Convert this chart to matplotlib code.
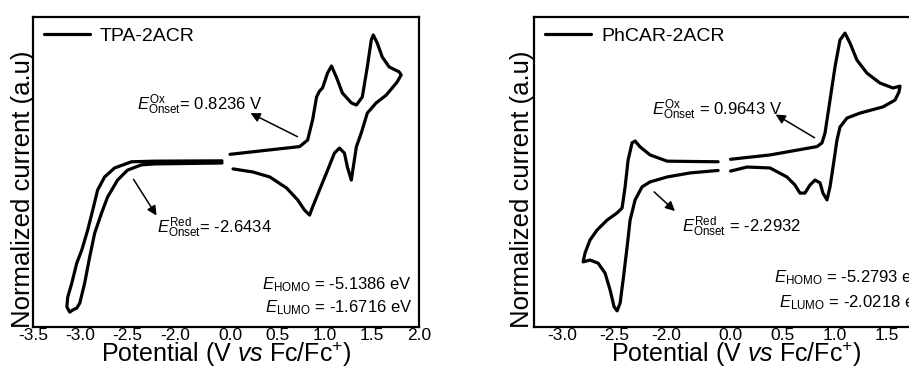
import numpy as np
import matplotlib
matplotlib.use("Agg")
import matplotlib.pyplot as plt

plt.rcParams['font.family'] = ['Liberation Sans', 'DejaVu Sans']
plt.rcParams['mathtext.fontset'] = 'custom'
plt.rcParams['mathtext.rm'] = 'Liberation Sans'
plt.rcParams['mathtext.it'] = 'Liberation Sans:italic'
plt.rcParams['axes.unicode_minus'] = False

# ---------------- TPA-2ACR ----------------
# reduction scan (left of the axis break)
tpa_red_x = [-1.5, -2.216, -2.458, -2.637, -2.742, -2.816, -2.868, -2.921, -2.984, -3.037,
             -3.089, -3.132, -3.142, -3.111, -3.079, -3.037,
             -3.005, -2.953, -2.9, -2.847, -2.774, -2.711, -2.605, -2.5, -2.353, -2.216, -1.5]
tpa_red_y = [5.36, 5.35, 5.33, 5.13, 4.84, 4.42, 3.77, 3.13, 2.48, 2.06,
             1.42, 0.97, 0.65, 0.48, 0.55, 0.61,
             0.77, 1.42, 2.26, 3.03, 3.68, 4.19, 4.74, 5.06, 5.23, 5.26, 5.29]
# oxidation scan (right of the axis break)
tpa_ox_x = [0.0, 0.737, 0.821, 0.874, 0.916, 0.947, 0.979, 1.032, 1.074, 1.126, 1.189, 1.284,
            1.337, 1.4, 1.453, 1.495, 1.516, 1.558, 1.611, 1.684, 1.789, 1.811, 1.768,
            1.653, 1.547, 1.453, 1.389, 1.337, 1.295, 1.284, 1.242, 1.211, 1.158, 1.105,
            1.021, 0.947, 0.874, 0.842, 0.789, 0.716, 0.6, 0.421, 0.242, 0.032]
tpa_ox_y = [5.57, 5.82, 6.03, 6.68, 7.42, 7.61, 7.71, 8.19, 8.42, 8.06, 7.55, 7.23,
            7.16, 7.42, 8.39, 9.26, 9.42, 9.16, 8.71, 8.39, 8.23, 8.13, 7.9,
            7.48, 7.23, 6.9, 6.26, 5.81, 4.97, 4.74, 5.16, 5.61, 5.77, 5.61,
            4.97, 4.42, 3.87, 3.61, 3.77, 4.1, 4.48, 4.84, 5.0, 5.1]

# ---------------- PhCAR-2ACR ----------------
ph_red_x = [-1.5, -1.769, -1.99, -2.154, -2.25, -2.298, -2.327, -2.365, -2.394, -2.423,
            -2.471, -2.567, -2.663, -2.731, -2.779, -2.798,
            -2.731, -2.654, -2.587, -2.538, -2.5, -2.471, -2.442, -2.413, -2.375, -2.346,
            -2.298, -2.231, -2.154, -1.99, -1.769, -1.5]
ph_red_y = [5.33, 5.34, 5.35, 5.55, 5.81, 6.0, 5.94, 5.39, 4.52, 3.84,
            3.68, 3.45, 3.13, 2.81, 2.39, 2.1,
            2.16, 2.06, 1.74, 1.19, 0.65, 0.52, 0.77, 1.52, 2.58, 3.45,
            4.1, 4.52, 4.68, 4.84, 4.97, 5.05]
ph_ox_x = [0.0, 0.379, 0.831, 0.879, 0.908, 0.956, 1.004, 1.052, 1.1, 1.148, 1.215, 1.311,
           1.436, 1.561, 1.629,
           1.619, 1.581, 1.465, 1.244, 1.119, 1.052, 1.023, 0.985, 0.956, 0.927, 0.888,
           0.86, 0.812, 0.763, 0.715, 0.667, 0.619, 0.542, 0.379, 0.158, 0.0]
ph_ox_y = [5.41, 5.55, 5.82, 5.94, 6.26, 7.32, 8.39, 9.26, 9.48, 9.16, 8.61, 8.19,
           7.87, 7.71, 7.77,
           7.58, 7.32, 7.1, 6.9, 6.74, 6.45, 6.03, 5.16, 4.52, 4.1, 4.32,
           4.65, 4.74, 4.58, 4.32, 4.32, 4.58, 4.84, 5.13, 5.16, 5.03]

tpa_ticks = [-3.5, -3.0, -2.5, -2.0, 0.0, 0.5, 1.0, 1.5, 2.0]
ph_ticks = [-3.0, -2.5, -2.0, 0.0, 0.5, 1.0, 1.5]


def break_scale(gap):
    # squeeze the unused -1.5 ... 0 V range into a small gap
    def fwd(x):
        x = np.asarray(x, dtype=float)
        return np.where(x <= -1.5, x,
                        np.where(x >= 0, x - 1.5 + gap, -1.5 + (x + 1.5) * gap / 1.5))

    def inv(u):
        u = np.asarray(u, dtype=float)
        return np.where(u <= -1.5, u,
                        np.where(u >= -1.5 + gap, u + 1.5 - gap, -1.5 + (u + 1.5) * 1.5 / gap))
    return fwd, inv


fig = plt.figure(figsize=(9.09, 3.70), dpi=100)
W, H = 909.0, 370.0

ax1 = fig.add_axes([33 / W, 43 / H, 386 / W, 310 / H])
ax2 = fig.add_axes([534 / W, 43 / H, 404.6 / W, 310 / H])


def style(ax, gap, xlim, ticks, name):
    ax.set_xscale('function', functions=break_scale(gap))
    ax.set_xlim(*xlim)
    ax.set_ylim(0, 10)
    ax.set_xticks(ticks)
    ax.set_xticklabels([f"{t:.1f}" for t in ticks])
    ax.set_yticks([])
    ax.minorticks_off()
    ax.tick_params(axis='x', length=0, pad=0.5, labelsize=12.5)
    for s in ax.spines.values():
        s.set_linewidth(1.6)
    ax.set_xlabel(r"Potential (V $\it{vs}$ Fc/Fc$^{+}$)", fontsize=18, labelpad=-2)
    leg = ax.legend(handles=ax.lines[:1], labels=[name], loc='upper left', frameon=False,
                    fontsize=14, handlelength=2.4, handletextpad=0.5,
                    borderaxespad=0.25, borderpad=0.3)
    return leg


line_kw = dict(color='black', lw=2.3, solid_joinstyle='round', solid_capstyle='round')
arrow_kw = dict(arrowstyle='-|>', color='black', lw=1.1, mutation_scale=14)

# left panel
ax1.plot(tpa_red_x, tpa_red_y, **line_kw)
ax1.plot(tpa_ox_x, tpa_ox_y, **line_kw)
style(ax1, 0.085, (-3.5, 2.0), tpa_ticks, "TPA-2ACR")
ax1.annotate("", xy=(0.19, 6.94), xytext=(0.74, 6.1), arrowprops=arrow_kw)
ax1.text(-2.40, 7.16, r"$\it{E}_{\rm Onset}^{\rm Ox}$= 0.8236 V", fontsize=12, va='center')
ax1.annotate("", xy=(-2.177, 3.52), xytext=(-2.452, 4.84), arrowprops=arrow_kw)
ax1.text(-2.188, 3.19, r"$\it{E}_{\rm Onset}^{\rm Red}$= -2.6434", fontsize=12, va='center')
ax1.text(1.926, 1.35, r"$\it{E}_{\rm HOMO}$ = -5.1386 eV", fontsize=12, va='center', ha='right')
ax1.text(1.926, 0.61, r"$\it{E}_{\rm LUMO}$ = -1.6716 eV", fontsize=12, va='center', ha='right')

# right panel
ax2.plot(ph_red_x, ph_red_y, **line_kw)
ax2.plot(ph_ox_x, ph_ox_y, **line_kw)
style(ax2, 0.12, (-3.27, 2.0), ph_ticks, "PhCAR-2ACR")
ax2.annotate("", xy=(0.41, 6.9), xytext=(0.83, 6.06), arrowprops=arrow_kw)
ax2.text(-2.135, 7.0, r"$\it{E}_{\rm Onset}^{\rm Ox}$ = 0.9643 V", fontsize=12, va='center')
ax2.annotate("", xy=(-1.895, 3.68), xytext=(-2.135, 4.42), arrowprops=arrow_kw)
ax2.text(-1.847, 3.23, r"$\it{E}_{\rm Onset}^{\rm Red}$ = -2.2932", fontsize=12, va='center')
ax2.text(0.418, 1.58, r"$\it{E}_{\rm HOMO}$ = -5.2793 eV", fontsize=12, va='center')
ax2.text(0.466, 0.77, r"$\it{E}_{\rm LUMO}$ = -2.0218 eV", fontsize=12, va='center')

# y labels sit over the frame edge like in the original
fig.text(23 / W, 1 - 189 / H, "Normalized current (a.u)", rotation=90, fontsize=18.5,
         ha='center', va='center')
fig.text(522 / W, 1 - 189 / H, "Normalized current (a.u)", rotation=90, fontsize=18.5,
         ha='center', va='center')

fig.savefig("out.png", dpi=100)
